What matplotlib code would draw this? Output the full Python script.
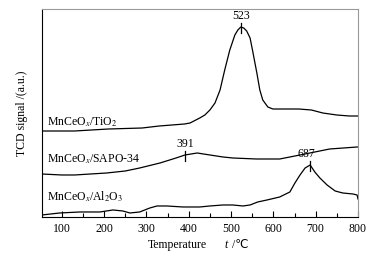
import matplotlib
matplotlib.use("Agg")
import matplotlib.pyplot as plt
from matplotlib.ticker import MultipleLocator

plt.rcParams['font.family'] = ['Liberation Serif', 'DejaVu Sans']
plt.rcParams['mathtext.fontset'] = 'stix'

# TCD curves (temperature in C, signal in a.u.)
t_ti = [52, 100, 130, 170, 210, 250, 290, 330, 360, 390, 403, 426, 438, 450, 462, 474, 485, 497, 509, 516,
        523, 530, 537, 545, 552, 561, 568, 575, 587, 599, 616, 632, 660, 690, 717, 750, 780, 800]
s_ti = [86, 86, 86, 87, 88, 88.5, 89, 91, 92, 93, 94, 99, 102, 107, 114, 127, 147, 167, 182, 187,
        190, 189, 186, 179, 164, 144, 127, 117, 110, 108, 108, 108, 108, 107, 104, 102, 101, 101]

t_sapo = [52, 100, 130, 206, 250, 284, 332, 370, 391, 420, 450, 481, 504, 560, 590, 615, 663, 698, 733, 798, 800]
s_sapo = [43, 42, 42, 44, 46, 49, 54, 59, 62, 64, 62, 60, 59, 58, 58, 58, 62, 65, 68, 70, 70]

t_al = [53, 95, 143, 190, 221, 244, 261, 284, 308, 325, 348, 386, 403, 426, 450, 481, 504, 528,
        545, 563, 585, 615, 639, 651, 663, 675, 687, 698, 710, 727, 746, 764, 788, 798, 800]
s_al = [2, 4, 5, 5, 7, 6, 4, 5, 9, 11, 11, 10, 10, 10, 11, 12, 12, 11,
        12, 15, 17, 20, 25, 34, 42, 49, 52, 45, 39, 32, 26, 24, 23, 22, 18]

peaks = [523, 391, 687]
peak_sig = [190, 62, 52]
names = ["MnCeO$_x$/TiO$_2$", "MnCeO$_x$/SAPO-34", "MnCeO$_x$/Al$_2$O$_3$"]
name_y = [95, 58, 20]

fig = plt.figure(figsize=(3.78, 2.58), dpi=100)
ax = fig.add_axes([0.111, 0.159, 0.836, 0.806])

for t, s in [(t_ti, s_ti), (t_sapo, s_sapo), (t_al, s_al)]:
    ax.plot(t, s, color='black', lw=0.9)

for p, ps in zip(peaks, peak_sig):
    ax.plot([p, p], [ps - 6, ps + 4], color='black', lw=0.9)
    # the 687 label sits a little left of its mark in the original
    lx = p - 9 if p == 687 else p
    ax.text(lx, ps + 11, str(p), ha='center', va='center', fontsize=8.5)

for n, y in zip(names, name_y):
    ax.text(65, y, n, ha='left', va='center', fontsize=8.5)

ax.set_xlim(53, 800)
ax.set_ylim(0, 208)
ax.xaxis.set_major_locator(MultipleLocator(100))
ax.xaxis.set_minor_locator(MultipleLocator(50))
ax.set_yticks([])
ax.tick_params(axis='x', which='both', direction='in', labelsize=8.5, pad=4)
ax.tick_params(axis='x', which='major', length=4, width=0.8)
ax.tick_params(axis='x', which='minor', length=3, width=0.8)
for side in ['top', 'right']:
    ax.spines[side].set_color('#999999')
    ax.spines[side].set_linewidth(0.8)
for side in ['left', 'bottom']:
    ax.spines[side].set_linewidth(0.8)

# x label in pieces so the italic t and the ℃ sign both render
fig.text(148 / 378, 1 - 245 / 258, "Temperature", ha='left', va='center', fontsize=8.5)
fig.text(224 / 378, 1 - 245 / 258, "t", ha='left', va='center', fontsize=8.5, style='italic')
fig.text(229 / 378, 1 - 245 / 258, " /℃", ha='left', va='center', fontsize=8.5)
ax.set_ylabel("TCD signal /(a.u.)", fontsize=8.5, labelpad=10)

fig.savefig("out.png", dpi=100)
